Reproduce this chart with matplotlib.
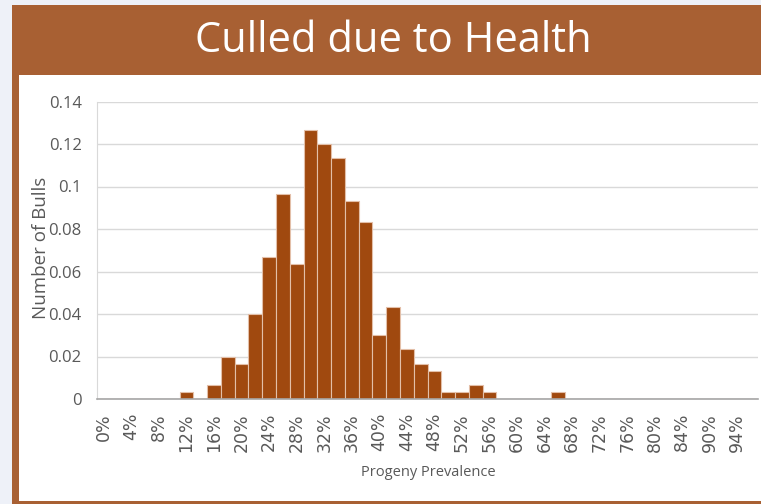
import matplotlib
matplotlib.use("Agg")
import matplotlib.pyplot as plt
from matplotlib.patches import Rectangle

# ---- data ----
prevalence_share = [
    0, 0, 0, 0, 0, 0, 0.0033, 0, 0.0067, 0.0200,
    0.0167, 0.0400, 0.0667, 0.0967, 0.0633, 0.1267, 0.1200, 0.1133, 0.0933, 0.0833,
    0.0300, 0.0433, 0.0233, 0.0167, 0.0133, 0.0033, 0.0033, 0.0067, 0.0033, 0,
    0, 0, 0, 0.0033, 0, 0, 0, 0, 0, 0,
    0, 0, 0, 0, 0, 0, 0, 0,
]
tick_labels = ["0%", "4%", "8%", "12%", "16%", "20%", "24%", "28%", "32%", "36%",
               "40%", "44%", "48%", "52%", "56%", "60%", "64%", "68%", "72%", "76%",
               "80%", "84%", "90%", "94%"]
y_ticks = [0, 0.02, 0.04, 0.06, 0.08, 0.1, 0.12, 0.14]
y_tick_labels = ["0", "0.02", "0.04", "0.06", "0.08", "0.1", "0.12", "0.14"]

title = "Culled due to Health"
xlabel = "Progeny Prevalence"
ylabel = "Number of Bulls"

W, H = 761, 504
fig = plt.figure(figsize=(W / 100, H / 100), dpi=100)
bg = "#eef1f8"
fig.patch.set_facecolor(bg)

brown = "#a86033"
narrow = ["Liberation Sans Narrow", "Open Sans", "DejaVu Sans"]

def fx(px):
    return px / W

def fy(py):
    return 1 - py / H

# background frame drawn in a full-figure axes below everything
bgax = fig.add_axes([0, 0, 1, 1], zorder=-5)
bgax.set_xlim(0, W)
bgax.set_ylim(H, 0)
bgax.axis("off")
bgax.add_patch(Rectangle((12, 5), W - 12, H - 5, facecolor=brown, edgecolor="none"))
bgax.add_patch(Rectangle((19, 75), W - 19, 501 - 75, facecolor="white", edgecolor="none"))

fig.text(fx(393), fy(41), title, color="white", fontsize=30,
         family=narrow, ha="center", va="center")

ax = fig.add_axes([fx(97), fy(399), fx(758 - 97), (399 - 101.5) / H], zorder=2)
ax.set_facecolor("white")

n = len(prevalence_share)
x = list(range(n))
ax.bar(x, prevalence_share, width=1.0, color="#a0490f",
       edgecolor="#e3bfa8", linewidth=0.8, zorder=3)

ax.set_xlim(-0.5, n - 0.5)
ax.set_ylim(0, 0.14)
ax.set_yticks(y_ticks)
ax.set_yticklabels(y_tick_labels, family=narrow, fontsize=12, color="#595959")
ax.set_xticks(list(range(0, n, 2)))
ax.set_xticklabels(tick_labels, rotation=90, fontsize=12.5, color="#595959",
                   family="DejaVu Sans")
ax.tick_params(axis="both", length=0)
ax.tick_params(axis="y", pad=11)
ax.tick_params(axis="x", pad=10)

ax.grid(axis="y", color="#d9d9d9", linewidth=1.0, zorder=0)
ax.set_axisbelow(True)
for s in ["top", "right"]:
    ax.spines[s].set_visible(False)
ax.spines["left"].set_color("#d9d9d9")
ax.spines["bottom"].set_color("#a6a6a6")
ax.spines["bottom"].set_linewidth(1.2)
ax.spines["bottom"].set_zorder(4)

fig.text(fx(428), fy(473), xlabel, family=narrow, fontsize=10.5,
         color="#595959", ha="center", va="center")
fig.text(fx(41), fy(248), ylabel, family=narrow, fontsize=13.5,
         color="#595959", ha="center", va="center", rotation=90)

fig.savefig("out.png", dpi=100, facecolor=fig.get_facecolor())
